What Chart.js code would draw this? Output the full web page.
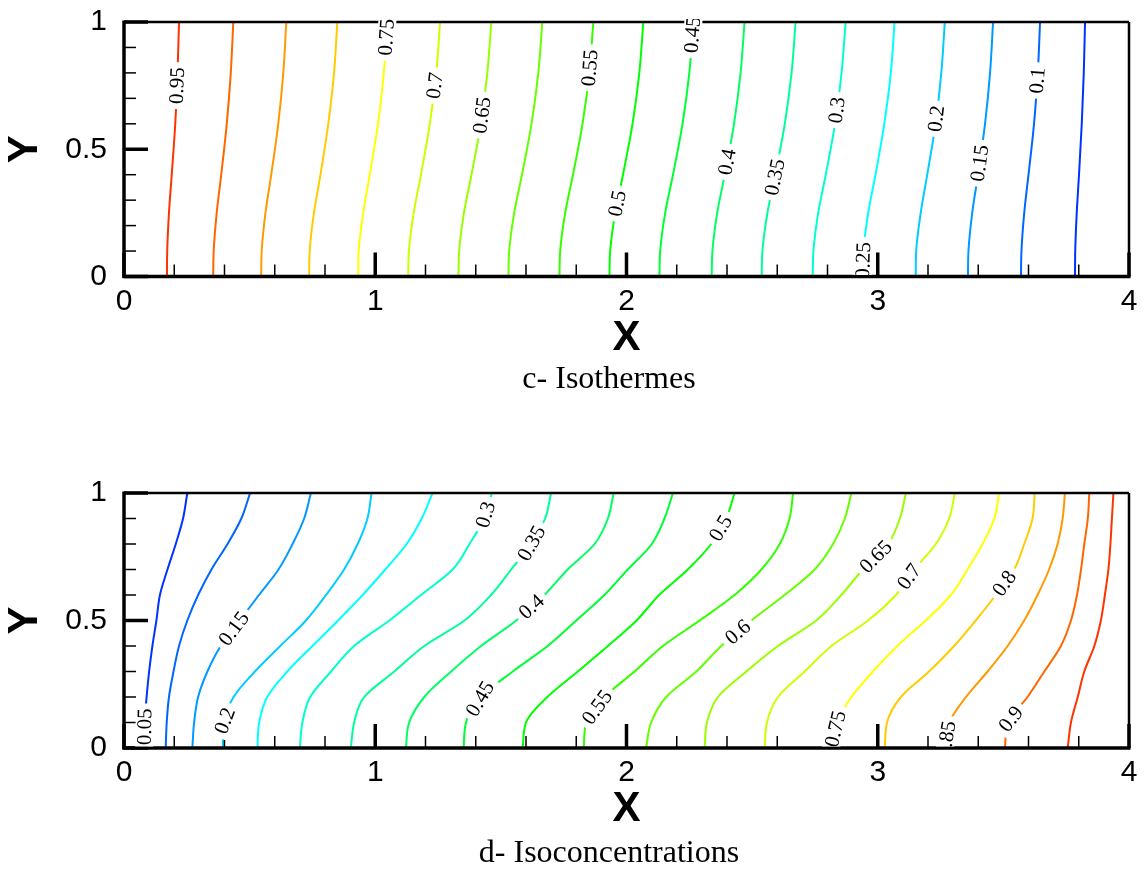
<!DOCTYPE html>
<html>
<head>
<meta charset="utf-8">
<title>Isothermes / Isoconcentrations</title>
<script src="https://cdn.jsdelivr.net/npm/chart.js@4.4.1/dist/chart.umd.min.js"></script>
<style>
  html, body { margin: 0; padding: 0; background: #fff; }
  #page { position: relative; width: 1145px; height: 870px; }
  .panel { position: absolute; left: 0; width: 1145px; }
</style>
</head>
<body>
<div id="page">
  <div class="panel" style="top:0"><canvas id="isothermes" width="1145" height="420"></canvas></div>
  <div class="panel" style="top:420px"><canvas id="isoconcentrations" width="1145" height="450"></canvas></div>
</div>
<script>
// axis ticks (shared by both panels)
const xTickLabels = [0, 1, 2, 3, 4];
const yTickLabels = [0, 0.5, 1];
const xMinorTicks = [0.2, 0.4, 0.6, 0.8, 1.2, 1.4, 1.6, 1.8, 2.2, 2.4, 2.6, 2.8, 3.2, 3.4, 3.6, 3.8];
const yMinorTicks = [0.1, 0.2, 0.3, 0.4, 0.6, 0.7, 0.8, 0.9];

// c- Isothermes : each line = x positions read at the heights in isoY
const isoY = [0, 0.1, 0.25, 0.4, 0.6, 0.8, 1];
const isoLevels = [0.95, 0.9, 0.85, 0.8, 0.75, 0.7, 0.65, 0.6, 0.55, 0.5, 0.45, 0.4, 0.35, 0.3, 0.25, 0.2, 0.15, 0.1, 0.05];
const isoX = [
  [0.171, 0.172, 0.179, 0.190, 0.204, 0.213, 0.219],
  [0.355, 0.357, 0.369, 0.387, 0.409, 0.425, 0.435],
  [0.546, 0.548, 0.563, 0.586, 0.614, 0.634, 0.646],
  [0.737, 0.739, 0.756, 0.782, 0.813, 0.836, 0.849],
  [0.932, 0.934, 0.952, 0.978, 1.011, 1.034, 1.048],
  [1.131, 1.134, 1.153, 1.182, 1.217, 1.243, 1.258],
  [1.331, 1.334, 1.353, 1.383, 1.420, 1.446, 1.462],
  [1.530, 1.533, 1.553, 1.584, 1.622, 1.649, 1.665],
  [1.733, 1.736, 1.756, 1.787, 1.825, 1.852, 1.868],
  [1.932, 1.935, 1.955, 1.986, 2.024, 2.051, 2.067],
  [2.131, 2.134, 2.154, 2.185, 2.223, 2.250, 2.266],
  [2.339, 2.342, 2.361, 2.391, 2.428, 2.454, 2.470],
  [2.538, 2.541, 2.561, 2.592, 2.630, 2.657, 2.673],
  [2.741, 2.744, 2.763, 2.793, 2.830, 2.856, 2.872],
  [2.940, 2.943, 2.962, 2.991, 3.026, 3.052, 3.067],
  [3.151, 3.153, 3.171, 3.197, 3.230, 3.253, 3.267],
  [3.359, 3.361, 3.376, 3.399, 3.427, 3.447, 3.459],
  [3.570, 3.572, 3.583, 3.600, 3.622, 3.637, 3.646],
  [3.785, 3.786, 3.792, 3.801, 3.812, 3.820, 3.825]
];
// [level, y where the label sits]
const isoLabels = [
  [0.95, 0.75], [0.75, 0.94], [0.7, 0.75], [0.65, 0.634], [0.55, 0.82], [0.5, 0.287], [0.45, 0.95],
  [0.4, 0.45], [0.35, 0.39], [0.3, 0.654], [0.25, 0.063], [0.2, 0.62], [0.15, 0.445], [0.1, 0.77]
];

// d- Isoconcentrations
const concY = [0, 0.1, 0.2, 0.3, 0.4, 0.5, 0.6, 0.7, 0.8, 0.9, 1];
const concLevels = [0.05, 0.1, 0.15, 0.2, 0.25, 0.3, 0.35, 0.4, 0.45, 0.5, 0.55, 0.6, 0.65, 0.7, 0.75, 0.8, 0.85, 0.9, 0.95];
const concX = [
  [0.080, 0.082, 0.090, 0.100, 0.113, 0.129, 0.143, 0.173, 0.206, 0.235, 0.252],
  [0.166, 0.170, 0.179, 0.197, 0.219, 0.252, 0.295, 0.348, 0.412, 0.467, 0.502],
  [0.272, 0.279, 0.295, 0.332, 0.385, 0.461, 0.537, 0.615, 0.671, 0.717, 0.744],
  [0.394, 0.398, 0.436, 0.521, 0.622, 0.724, 0.804, 0.876, 0.930, 0.969, 0.985],
  [0.531, 0.538, 0.570, 0.650, 0.750, 0.852, 0.950, 1.040, 1.125, 1.185, 1.228],
  [0.700, 0.710, 0.741, 0.824, 0.916, 1.056, 1.182, 1.308, 1.375, 1.434, 1.464],
  [0.903, 0.916, 0.956, 1.076, 1.195, 1.355, 1.461, 1.541, 1.620, 1.676, 1.700],
  [1.122, 1.135, 1.195, 1.302, 1.421, 1.561, 1.673, 1.766, 1.873, 1.926, 1.949],
  [1.352, 1.361, 1.421, 1.547, 1.686, 1.800, 1.912, 2.005, 2.101, 2.151, 2.185],
  [1.587, 1.600, 1.685, 1.806, 1.926, 2.040, 2.130, 2.244, 2.337, 2.397, 2.430],
  [1.830, 1.839, 1.912, 2.032, 2.145, 2.291, 2.430, 2.537, 2.610, 2.649, 2.663],
  [2.078, 2.098, 2.158, 2.278, 2.377, 2.497, 2.629, 2.749, 2.822, 2.869, 2.895],
  [2.311, 2.320, 2.364, 2.477, 2.603, 2.755, 2.855, 2.941, 3.041, 3.088, 3.112],
  [2.550, 2.559, 2.603, 2.709, 2.816, 2.961, 3.072, 3.145, 3.231, 3.284, 3.307],
  [2.813, 2.837, 2.895, 2.981, 3.078, 3.191, 3.291, 3.357, 3.417, 3.464, 3.483],
  [3.028, 3.037, 3.092, 3.204, 3.304, 3.390, 3.470, 3.543, 3.583, 3.616, 3.625],
  [3.267, 3.284, 3.351, 3.437, 3.517, 3.583, 3.636, 3.682, 3.716, 3.736, 3.745],
  [3.506, 3.519, 3.596, 3.663, 3.729, 3.769, 3.793, 3.809, 3.822, 3.836, 3.842],
  [3.756, 3.769, 3.796, 3.822, 3.862, 3.888, 3.904, 3.918, 3.926, 3.932, 3.938]
];
const concLabels = [
  [0.05, 0.083], [0.15, 0.468], [0.2, 0.107], [0.3, 0.915], [0.35, 0.803], [0.4, 0.554], [0.45, 0.193],
  [0.5, 0.862], [0.55, 0.16], [0.6, 0.455], [0.65, 0.751], [0.7, 0.672], [0.75, 0.075], [0.8, 0.646],
  [0.85, 0.035], [0.9, 0.114]
];

// tecplot-like rainbow: 0 = blue, 1 = red
function levelColor(v) {
  return 'hsl(' + Math.round(240 * (1 - v)) + ', 100%, 50%)';
}

// inward ticks, frame, in-line contour labels and the caption under the panel
const contourFrame = {
  id: 'contourFrame',
  afterDatasetsDraw(chart, args, opts) {
    const { ctx, chartArea: a } = chart;
    const sx = chart.scales.x, sy = chart.scales.y;
    const seg = (x1, y1, x2, y2, w) => {
      ctx.lineWidth = w;
      ctx.beginPath();
      ctx.moveTo(x1, y1);
      ctx.lineTo(x2, y2);
      ctx.stroke();
    };
    ctx.save();
    ctx.strokeStyle = '#000';
    xMinorTicks.forEach(v => { const p = sx.getPixelForValue(v); seg(p, a.bottom, p, a.bottom - 12, 1.5); });
    xTickLabels.forEach(v => { const p = sx.getPixelForValue(v); seg(p, a.bottom, p, a.bottom - 24, 3.5); });
    yMinorTicks.forEach(v => { const p = sy.getPixelForValue(v); seg(a.left, p, a.left + 12, p, 1.5); });
    yTickLabels.forEach(v => { const p = sy.getPixelForValue(v); seg(a.left, p, a.left + 24, p, 3.5); });
    seg(a.left, a.top, a.right, a.top, 2.5);
    seg(a.right, a.top, a.right, a.bottom, 2.5);
    seg(a.left, a.top - 1.5, a.left, a.bottom + 1.5, 3.5);
    seg(a.left - 1.5, a.bottom, a.right + 1.5, a.bottom, 3.5);

    // caption
    ctx.fillStyle = '#000';
    ctx.font = '32px "Liberation Serif"';
    ctx.textAlign = 'center';
    ctx.textBaseline = 'alphabetic';
    ctx.fillText(opts.caption, opts.captionX, a.bottom + opts.captionDrop);

    ctx.beginPath();
    ctx.rect(a.left + 2, a.top - 3, a.right - a.left - 4, a.bottom - a.top + 1.5);
    ctx.clip();
    ctx.font = '21px "Liberation Serif"';
    ctx.textBaseline = 'middle';
    opts.items.forEach(([level, yv]) => {
      const ds = chart.data.datasets.find(d => d.label === String(level));
      const pts = ds.data;
      let i = 0;
      while (i < pts.length - 2 && pts[i + 1].y < yv) i++;
      const t = (yv - pts[i].y) / (pts[i + 1].y - pts[i].y);
      const xv = pts[i].x + t * (pts[i + 1].x - pts[i].x);
      const ang = Math.atan2(
        sy.getPixelForValue(pts[i + 1].y) - sy.getPixelForValue(pts[i].y),
        sx.getPixelForValue(pts[i + 1].x) - sx.getPixelForValue(pts[i].x));
      const text = String(level);
      ctx.save();
      ctx.translate(sx.getPixelForValue(xv), sy.getPixelForValue(yv));
      ctx.rotate(ang);
      const w = ctx.measureText(text).width;
      ctx.fillStyle = '#fff';
      ctx.fillRect(-w / 2 - 5, -9, w + 10, 18);
      ctx.fillStyle = '#000';
      ctx.fillText(text, 0, 1);
      ctx.restore();
    });
    ctx.restore();
  }
};

function contourChart(id, levels, ys, xs, labels, caption, pad, captionDrop) {
  const datasets = levels.map((lv, i) => ({
    label: String(lv),
    data: ys.map((y, j) => ({ x: xs[i][j], y: y })),
    borderColor: levelColor(lv),
    borderWidth: 2,
    pointRadius: 0,
    cubicInterpolationMode: 'monotone'
  }));
  return new Chart(document.getElementById(id), {
    type: 'line',
    data: { datasets },
    plugins: [contourFrame],
    options: {
      indexAxis: 'y',
      responsive: false,
      animation: false,
      events: [],
      layout: { padding: pad },
      scales: {
        x: {
          type: 'linear', min: 0, max: 4,
          afterBuildTicks: s => { s.ticks = xTickLabels.map(v => ({ value: v })); },
          afterFit: s => { s.height = 84; s.paddingLeft = 0; s.paddingRight = 0; },
          grid: { display: false, drawTicks: false },
          border: { display: false },
          ticks: { padding: 7, color: '#000', maxRotation: 0, autoSkip: false,
                   callback: v => String(v),
                   font: { family: 'Liberation Sans', size: 30 } },
          title: { display: true, text: 'X', color: '#000', padding: { top: 0, bottom: 1.5 },
                   font: { family: 'Liberation Sans', size: 42, weight: 'bold', lineHeight: 1 } }
        },
        y: {
          type: 'linear', min: 0, max: 1,
          afterBuildTicks: s => { s.ticks = yTickLabels.map(v => ({ value: v })); },
          afterFit: s => { s.width = 124; s.paddingTop = 0; s.paddingBottom = 0; },
          grid: { display: false, drawTicks: false },
          border: { display: false },
          ticks: { padding: 17, color: '#000', callback: v => String(v),
                   font: { family: 'Liberation Sans', size: 30 } },
          title: { display: true, text: 'Y', color: '#000', padding: 0,
                   font: { family: 'Liberation Sans', size: 42, weight: 'bold', lineHeight: 1.2 } }
        }
      },
      plugins: {
        legend: { display: false },
        tooltip: { enabled: false },
        title: { display: false },
        contourFrame: { items: labels, caption: caption, captionX: 609, captionDrop: captionDrop }
      }
    }
  });
}

contourChart('isothermes', isoLevels, isoY, isoX, isoLabels, 'c- Isothermes',
  { left: 0, right: 16, top: 22, bottom: 59.5 }, 111);
contourChart('isoconcentrations', concLevels, concY, concX, concLabels, 'd- Isoconcentrations',
  { left: 0, right: 16, top: 73, bottom: 38 }, 114);
</script>
</body>
</html>
